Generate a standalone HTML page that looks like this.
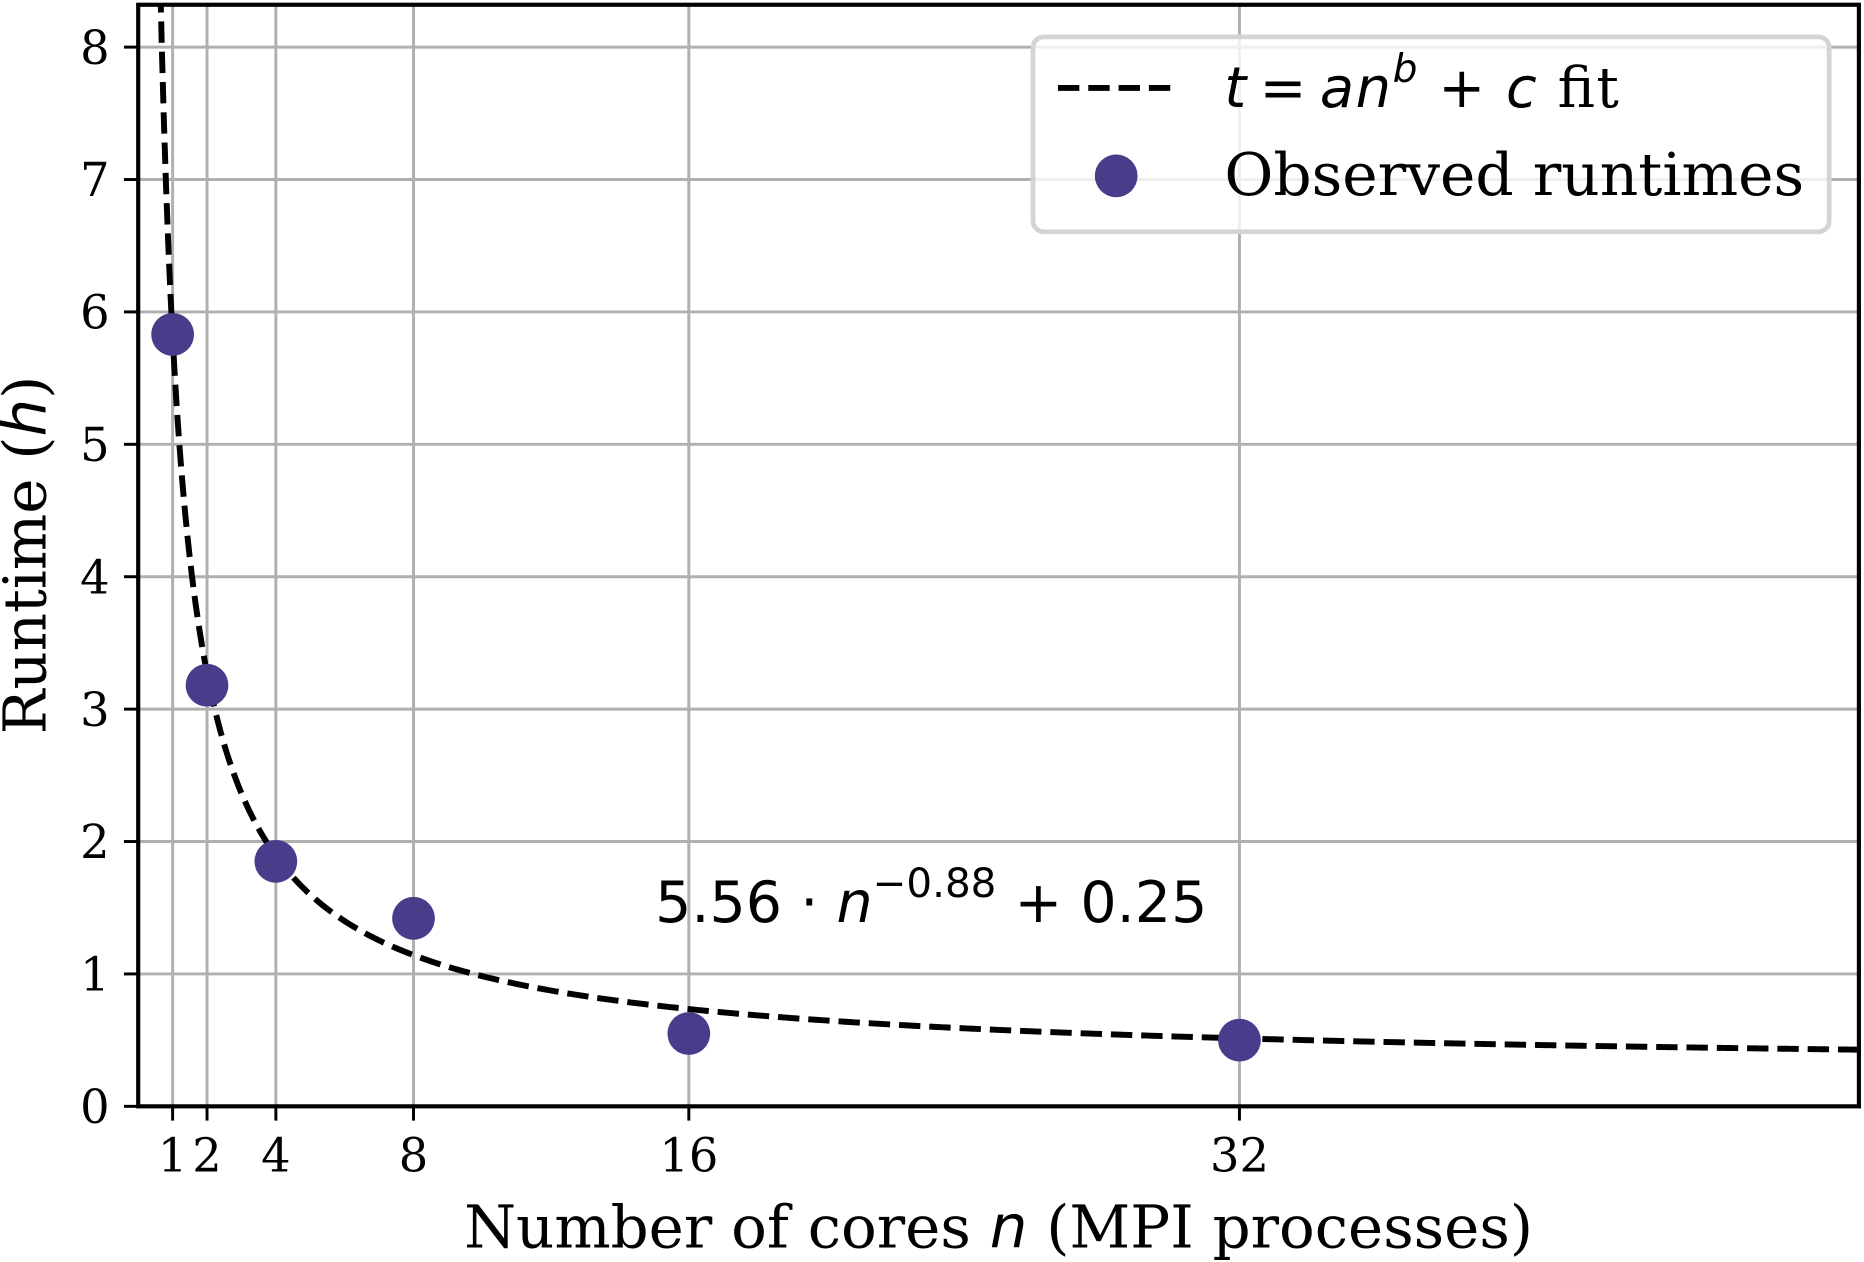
<!DOCTYPE html>
<html><head><meta charset="utf-8"><style>
html,body{margin:0;padding:0;background:#fff;}
svg{display:block;}
text{font-family:"DejaVu Serif","Liberation Serif",serif;fill:#000;}
.m{font-family:"DejaVu Sans","Liberation Sans",sans-serif;}
</style></head><body>
<svg id="chart" width="1864" height="1262" viewBox="0 0 1568 1062" xmlns="http://www.w3.org/2000/svg">
<defs><clipPath id="clp"><rect x="116" y="4" width="1448" height="927"/></clipPath></defs>
<g id="grid"></g>
<g id="fit"></g>
<g id="pts"></g>
<g id="ticks"></g>
<rect x="116" y="4" width="1448" height="927" fill="none" stroke="#000" stroke-width="3.5"/>
<text class="m" x="551" y="776" font-size="48">5.56 · <tspan font-style="italic">n</tspan><tspan dy="-21" font-size="34">−0.88</tspan><tspan dy="21"> + 0.25</tspan></text>
<g>
<rect x="869" y="31" width="670" height="164" rx="9" fill="#fff" fill-opacity="0.8" stroke="#d4d4d4" stroke-width="4"/>
<line x1="890" y1="74" x2="990" y2="74" stroke="#000" stroke-width="5" stroke-dasharray="18,7.5"/>
<text x="1030" y="90" font-size="47" textLength="332" lengthAdjust="spacing"><tspan class="m" font-style="italic">t</tspan><tspan class="m" dx="10">=</tspan><tspan class="m" font-style="italic" dx="10">an</tspan><tspan class="m" font-style="italic" dy="-21" font-size="33">b</tspan><tspan class="m" dy="21"> + </tspan><tspan class="m" font-style="italic">c</tspan> fit</text>
<circle cx="939" cy="148" r="18" fill="#483d8b"/>
<text x="1030" y="164" font-size="50" textLength="488" lengthAdjust="spacingAndGlyphs">Observed runtimes</text>
</g>
<text x="840" y="1050" font-size="50" text-anchor="middle">Number of cores <tspan class="m" font-style="italic">n</tspan> (MPI processes)</text>
<text transform="translate(38,467) rotate(-90)" font-size="50" text-anchor="middle">Runtime (<tspan class="m" font-style="italic">h</tspan>)</text>
</svg>
<script>
const cores = [1, 2, 4, 8, 16, 32];
const runtimes = [5.83, 3.18, 1.85, 1.42, 0.55, 0.5];
const xTicks = [1, 2, 4, 8, 16, 32];
const yTicks = [0, 1, 2, 3, 4, 5, 6, 7, 8];
const fitA = 5.56, fitB = -0.88, fitC = 0.25;
const X0=116,X1=1564,Y0=931,Y1=4,xMin=0,xMax=50,yMin=0,yMax=8.32;
const sx=v=>X0+(v-xMin)/(xMax-xMin)*(X1-X0);
const sy=v=>Y0-(v-yMin)/(yMax-yMin)*(Y0-Y1);
const NS="http://www.w3.org/2000/svg";
function mk(t,a,p){const e=document.createElementNS(NS,t);for(const k in a)e.setAttribute(k,a[k]);p.appendChild(e);return e;}
const grid=document.getElementById('grid'),ticks=document.getElementById('ticks');
xTicks.forEach(v=>{
 const g=mk('line',{x1:sx(v),x2:sx(v),y1:Y1,y2:Y0,stroke:'#b0b0b0','stroke-width':2.5},grid);
 
 
 const t=mk('line',{x1:sx(v),x2:sx(v),y1:Y0,y2:Y0+12,stroke:'#000','stroke-width':2.5},ticks);
 
 
 const l=mk('text',{x:sx(v),y:Y0+55,'font-size':39,'text-anchor':'middle'},ticks);
 l.textContent=v;
 
 
});
yTicks.forEach(v=>{
 const g=mk('line',{x1:X0,x2:X1,y1:sy(v),y2:sy(v),stroke:'#b0b0b0','stroke-width':2.5},grid);
 
 
 const t=mk('line',{x1:X0-12,x2:X0,y1:sy(v),y2:sy(v),stroke:'#000','stroke-width':2.5},ticks);
 
 
 const l=mk('text',{x:X0-24,y:sy(v)+14,'font-size':39,'text-anchor':'end'},ticks);
 l.textContent=v;
 
 
});
let d='';
for(let i=0;i<=800;i++){const n=0.5+i*(xMax-0.5)/800;let y=fitA*Math.pow(n,fitB)+fitC;if(y>12)continue;d+=(d?'L':'M')+sx(n).toFixed(2)+','+sy(y).toFixed(2);}
const fp=mk('path',{d:d,fill:'none',stroke:'#000','stroke-width':5,'stroke-dasharray':'18,7.5','clip-path':'url(#clp)'},document.getElementById('fit'));


cores.forEach((c,i)=>{
 const p=mk('circle',{cx:sx(c),cy:sy(runtimes[i]),r:18,fill:'#483d8b'},document.getElementById('pts'));
 
 
});
</script>
</body></html>
